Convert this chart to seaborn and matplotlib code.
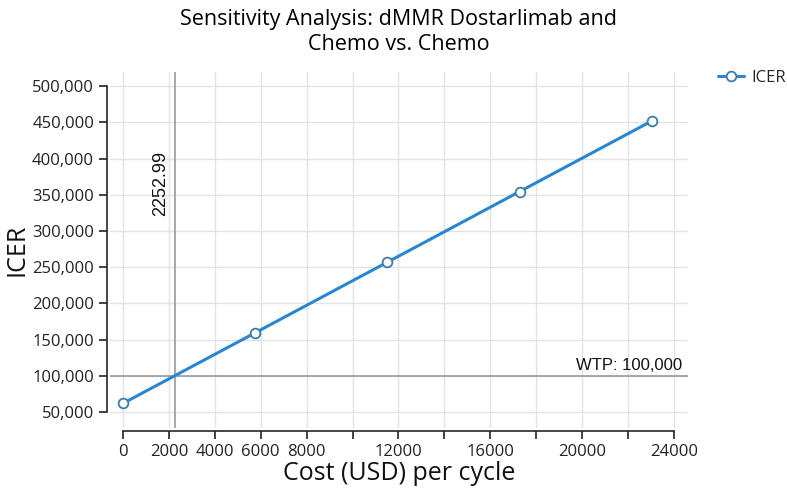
import matplotlib
matplotlib.use("Agg")
import matplotlib.pyplot as plt
import seaborn as sns
import pandas as pd
from matplotlib.ticker import FuncFormatter

# data
cost_per_cycle = [0, 5760, 11520, 17280, 23040]
icer = [62000, 159500, 257000, 354500, 452000]
threshold_cost = 2252.99
wtp = 100000
x_ticks = list(range(0, 24001, 2000))
x_tick_labels = ["0", "2000", "4000", "6000", "8000", "", "12000", "",
                 "16000", "", "20000", "", "24000"]
y_ticks = list(range(50000, 500001, 50000))

df = pd.DataFrame({"Cost (USD) per cycle": cost_per_cycle, "ICER": icer})

sns.set_style("ticks")
plt.rcParams["font.family"] = ["Open Sans", "DejaVu Sans"]

fig = plt.figure(figsize=(7.87, 4.96), dpi=100)
ax = fig.add_axes([110 / 787, 1 - 428 / 496, 578 / 787, 356 / 496])

ax.grid(True, color="#e3e3e3", linewidth=1)
ax.set_axisbelow(True)

ax.axvline(threshold_cost, color="#9a9a9a", linewidth=1.2, zorder=1)
ax.axhline(wtp, color="#9a9a9a", linewidth=1.2, zorder=1)

sns.lineplot(data=df, x="Cost (USD) per cycle", y="ICER", ax=ax,
             color="#2a86d2", linewidth=2.2, marker="o", markersize=7,
             markerfacecolor="white", markeredgecolor="#3b7fa6",
             markeredgewidth=1.3, label="ICER", zorder=3)

ax.set_xlim(-566, 24610)
ax.set_ylim(28000, 519500)
ax.set_xticks(x_ticks)
ax.set_xticklabels(x_tick_labels)
ax.set_yticks(y_ticks)
ax.yaxis.set_major_formatter(FuncFormatter(lambda v, p: f"{int(v):,}"))
ax.tick_params(labelsize=12, length=6, width=1.2, colors="#222222",
               labelcolor="#222222")

for side in ["top", "right"]:
    ax.spines[side].set_visible(False)
ax.spines["left"].set_position(("outward", 2))
ax.spines["bottom"].set_position(("outward", 2))
ax.spines["left"].set_bounds(50000, 500000)
ax.spines["bottom"].set_bounds(0, 24000)
ax.spines["left"].set_linewidth(1.2)
ax.spines["bottom"].set_linewidth(1.2)

ax.text(threshold_cost - 250, 365000, f"{threshold_cost:.2f}", rotation=90,
        ha="right", va="center", fontsize=13, family=["Liberation Sans"],
        color="#111111")
ax.text(24350, wtp + 4000, "WTP: 100,000", ha="right", va="bottom",
        fontsize=12, family=["Liberation Sans"], color="#111111")

ax.set_xlabel("Cost (USD) per cycle", fontsize=18, labelpad=1, color="#111111")
ax.set_ylabel("ICER", fontsize=18, labelpad=2, color="#111111")
ax.set_title("Sensitivity Analysis: dMMR Dostarlimab and\nChemo vs. Chemo",
             fontsize=15.5, pad=16, linespacing=1.25, color="#000000")

ax.legend(loc="upper left", bbox_to_anchor=(1.04, 1.025), frameon=False,
          fontsize=12, handlelength=1.6, handletextpad=0.4, borderaxespad=0)

fig.savefig("out.png", dpi=100)
